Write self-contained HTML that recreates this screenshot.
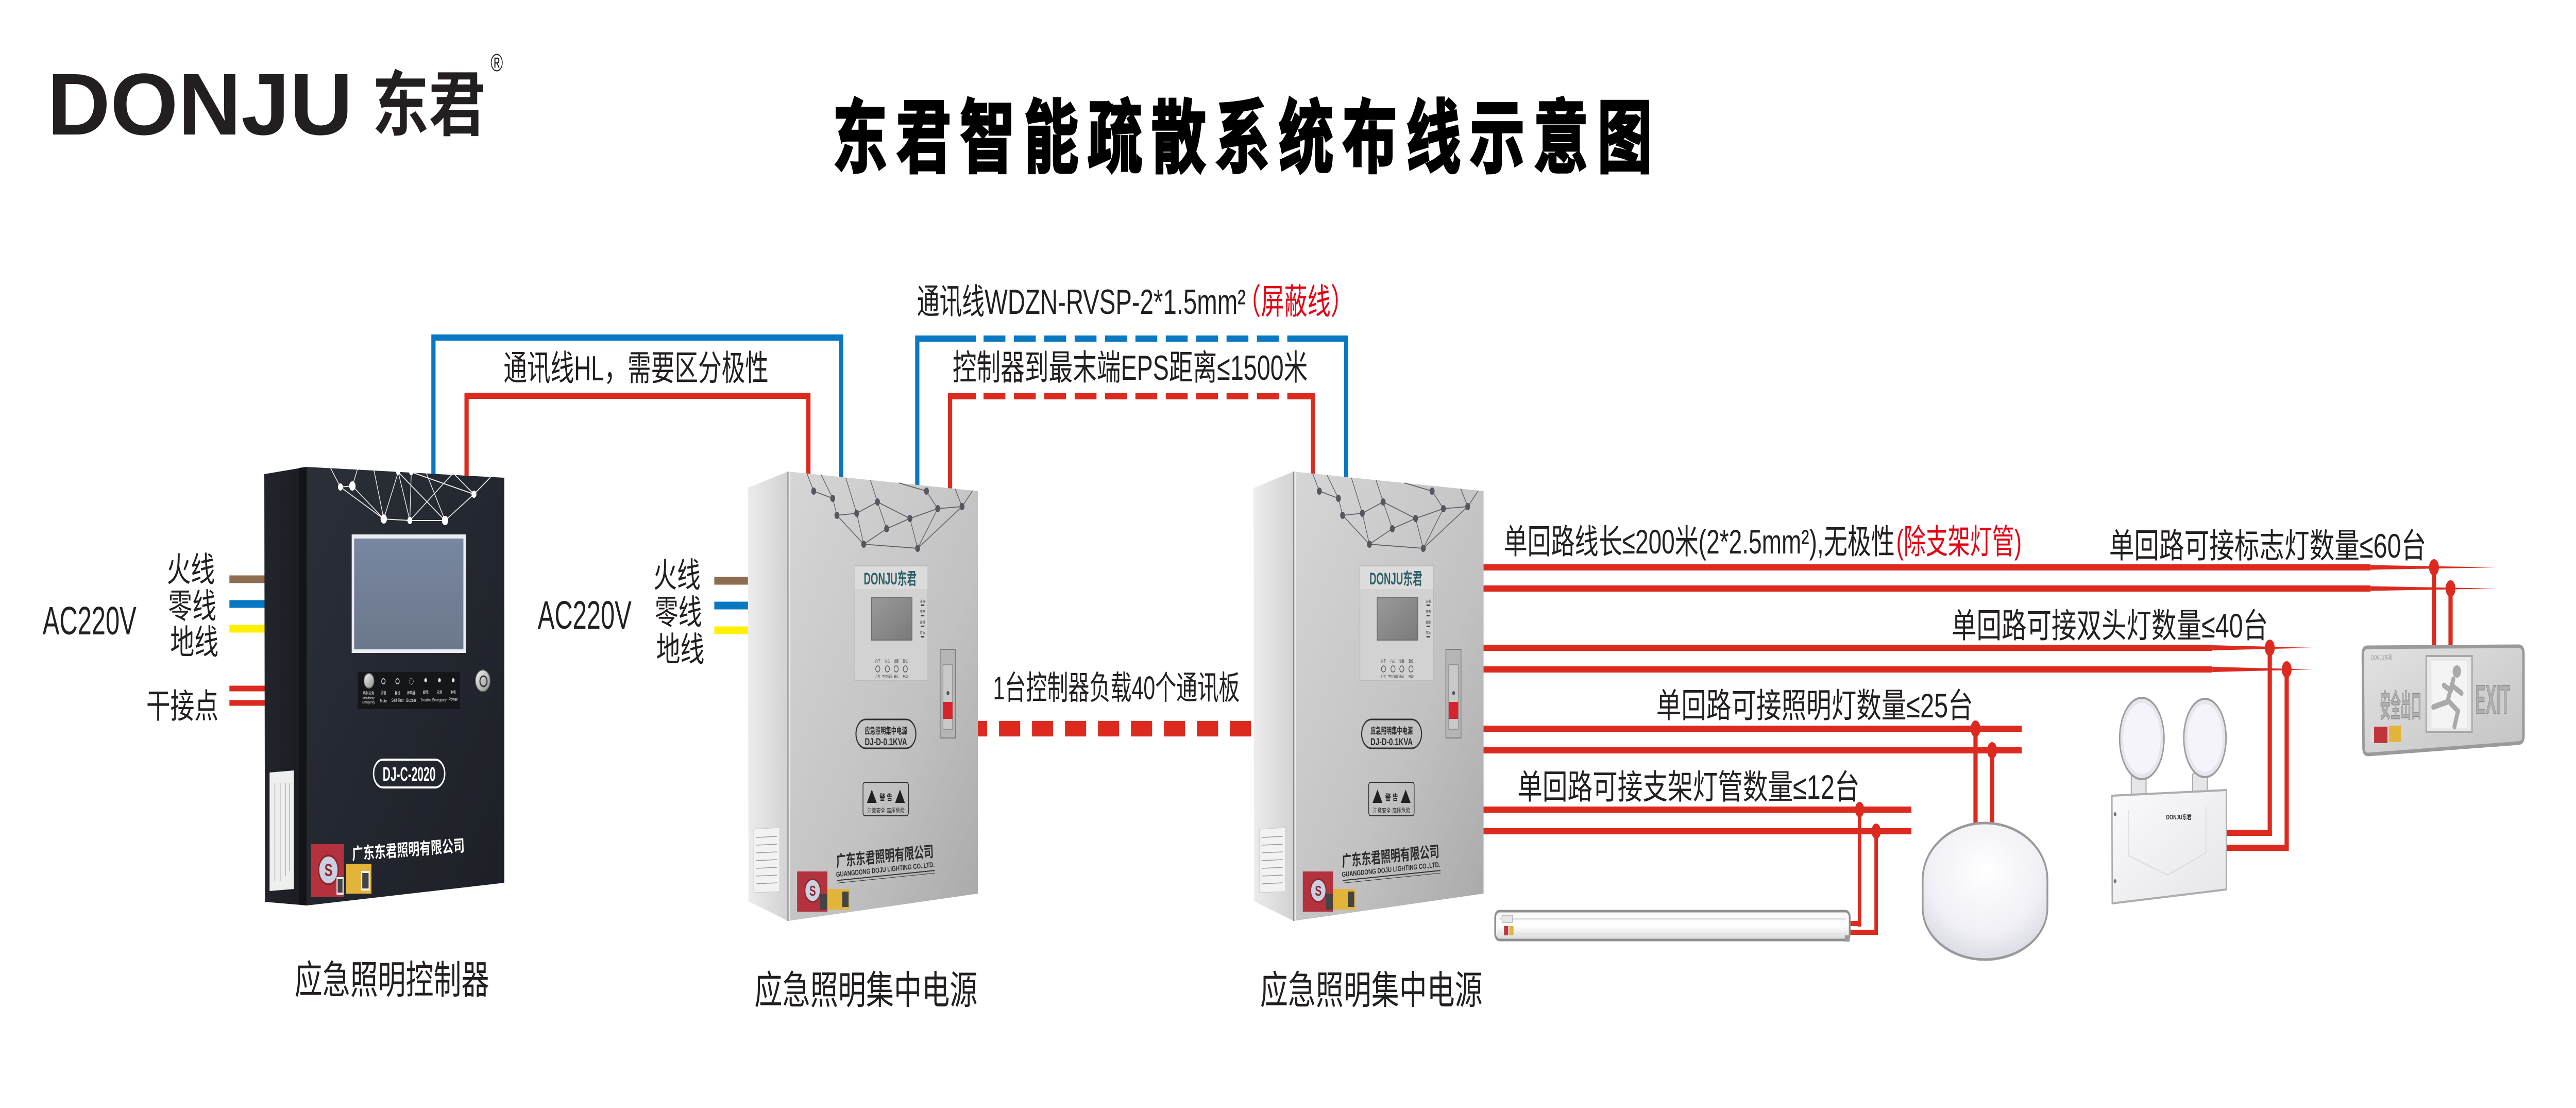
<!DOCTYPE html>
<html><head><meta charset="utf-8"><style>
html,body{margin:0;padding:0;background:#fff;width:100%;height:100%;overflow:hidden;}
svg{display:block;width:100vw;height:100vh;}
text{font-family:"Liberation Sans","Noto Sans CJK SC",sans-serif;}
</style></head><body>
<svg viewBox="0 0 7310 2150" preserveAspectRatio="none" xmlns="http://www.w3.org/2000/svg">
<defs>
<linearGradient id="cf" x1="0" y1="0" x2="1" y2="1"><stop offset="0" stop-color="#2b2f38"/><stop offset="1" stop-color="#1c1f26"/></linearGradient>
<linearGradient id="cs" x1="0" y1="0" x2="1" y2="0"><stop offset="0" stop-color="#22252c"/><stop offset="1" stop-color="#191b20"/></linearGradient>
<linearGradient id="ef" x1="0" y1="0" x2="1" y2="1"><stop offset="0" stop-color="#d6d6d6"/><stop offset="0.6" stop-color="#c2c2c2"/><stop offset="1" stop-color="#a9a9a9"/></linearGradient>
<linearGradient id="es" x1="0" y1="0" x2="1" y2="0"><stop offset="0" stop-color="#ececec"/><stop offset="1" stop-color="#d2d2d2"/></linearGradient>
<linearGradient id="scr" x1="0" y1="0" x2="0" y2="1"><stop offset="0" stop-color="#7886a0"/><stop offset="1" stop-color="#6b788c"/></linearGradient>
<linearGradient id="lcd" x1="0" y1="0" x2="1" y2="1"><stop offset="0" stop-color="#9a9a9a"/><stop offset="1" stop-color="#7a7a7a"/></linearGradient>
<linearGradient id="silver" x1="0" y1="0" x2="1" y2="1"><stop offset="0" stop-color="#f4f4f4"/><stop offset="1" stop-color="#8c8c8c"/></linearGradient>
<linearGradient id="tube" x1="0" y1="0" x2="0" y2="1"><stop offset="0" stop-color="#f7f7f7"/><stop offset="0.5" stop-color="#ffffff"/><stop offset="1" stop-color="#d8d8d8"/></linearGradient>
<radialGradient id="puck" cx="0.5" cy="0.35" r="0.65"><stop offset="0" stop-color="#ffffff"/><stop offset="0.7" stop-color="#f0f0f6"/><stop offset="1" stop-color="#dcdce4"/></radialGradient>
<linearGradient id="exitg" x1="0" y1="0" x2="1" y2="1"><stop offset="0" stop-color="#e2e2e2"/><stop offset="1" stop-color="#c4c4c4"/></linearGradient>
<linearGradient id="dhb" x1="0" y1="0" x2="1" y2="1"><stop offset="0" stop-color="#fafafc"/><stop offset="1" stop-color="#e6e6ea"/></linearGradient>
</defs>
<rect width="7310" height="2150" fill="#fff"/>

<!-- LOGO -->
<text x="134" y="261" font-size="170" font-weight="bold" fill="#231f20" textLength="867" lengthAdjust="spacingAndGlyphs">DONJU</text>
<text x="1056" y="252" font-size="138" font-weight="bold" fill="#231f20" textLength="322" lengthAdjust="spacingAndGlyphs">东君</text>
<text x="1392" y="138" font-size="48" fill="#231f20">®</text>

<!-- TITLE -->
<text x="2363" y="322" font-size="155" font-weight="bold" fill="#000" stroke="#000" stroke-width="5" textLength="2325" lengthAdjust="spacing">东君智能疏散系统布线示意图</text>

<!-- LEFT AC WIRES -->
<rect x="651" y="1116.5" width="104" height="15" fill="#8c6d4f"/>
<rect x="651" y="1164.5" width="104" height="15" fill="#0878c3"/>
<rect x="651" y="1212.5" width="104" height="15" fill="#fff100"/>
<rect x="651" y="1330.5" width="104" height="11" fill="#dd2a1f"/>
<rect x="651" y="1358.5" width="104" height="11" fill="#dd2a1f"/>
<!-- RIGHT AC WIRES to EPS1 -->
<rect x="2027" y="1119.5" width="100" height="15" fill="#8c6d4f"/>
<rect x="2027" y="1167.5" width="100" height="15" fill="#0878c3"/>
<rect x="2027" y="1215.5" width="100" height="15" fill="#fff100"/>

<!-- HL wires -->
<path d="M1230 945 V655 H2387 V945" stroke="#0878c3" stroke-width="12" fill="none"/>
<path d="M1324 945 V768 H2294 V945" stroke="#dd2a1f" stroke-width="12" fill="none"/>

<!-- EPS1-EPS2 comm wires -->
<g stroke-width="12" fill="none">
<path d="M2603 960 V657 H2769" stroke="#0878c3"/>
<path d="M3653 657 H3820 V945" stroke="#0878c3"/>
<path d="M2791 657 H3629" stroke="#0878c3" stroke-dasharray="62 24.2"/>
<path d="M2696 965 V769 H2769" stroke="#dd2a1f"/>
<path d="M3653 769 H3726 V945" stroke="#dd2a1f"/>
<path d="M2791 769 H3629" stroke="#dd2a1f" stroke-dasharray="62 24.2"/>
</g>
<!-- middle dashed -->
<path d="M2770 1414 H3565" stroke="#dd2a1f" stroke-width="30" stroke-dasharray="60 33.6" stroke-dashoffset="28.6" fill="none"/>

<!-- RIGHT WIRE PAIRS -->
<g fill="#dd2a1f">
<rect x="4200" y="1095" width="2527" height="12"/>
<polygon points="6727,1096.5 7083,1101 6727,1105.5"/>
<rect x="4200" y="1136" width="2527" height="12"/>
<polygon points="6727,1137.5 7083,1142 6727,1146.5"/>
<rect x="4200" y="1251" width="2078" height="12"/>
<polygon points="6278,1252 6565,1257 6278,1262"/>
<rect x="4200" y="1293" width="2078" height="12"/>
<polygon points="6278,1294 6565,1299 6278,1304"/>
<rect x="4200" y="1408" width="1537" height="12"/>
<rect x="4200" y="1450" width="1537" height="12"/>
<rect x="4200" y="1565" width="1224" height="12"/>
<rect x="4200" y="1607" width="1224" height="12"/>
<!-- verticals -->
<rect x="6901" y="1101" width="12" height="160"/>
<rect x="6948" y="1142" width="12" height="119"/>
<rect x="6435" y="1257" width="12" height="365"/>
<rect x="6483" y="1299" width="12" height="352"/>
<rect x="6310" y="1610" width="137" height="12"/>
<rect x="6310" y="1639" width="185" height="12"/>
<rect x="5600" y="1414" width="12" height="190"/>
<rect x="5647" y="1456" width="12" height="148"/>
<rect x="5272" y="1571" width="10" height="227"/>
<rect x="5319" y="1613" width="10" height="201"/>
<rect x="5245" y="1787" width="37" height="10"/>
<rect x="5245" y="1804" width="84" height="10"/>
<!-- dots -->
<ellipse cx="6907" cy="1101" rx="14" ry="16"/>
<ellipse cx="6954" cy="1142" rx="14" ry="16"/>
<ellipse cx="6441" cy="1257" rx="14" ry="16"/>
<ellipse cx="6489" cy="1299" rx="14" ry="16"/>
<ellipse cx="5606" cy="1414" rx="14" ry="16"/>
<ellipse cx="5653" cy="1456" rx="14" ry="16"/>
<ellipse cx="5277" cy="1571" rx="13" ry="15"/>
<ellipse cx="5324" cy="1613" rx="13" ry="15"/>
</g>

<!-- CONTROLLER -->
<polygon points="750,920 871,906 871,1757 752,1750" fill="url(#cs)"/>
<polygon points="848,908 871,906 871,1757 848,1755" fill="#121418"/>
<polygon points="871,906 1431,927 1431,1713 871,1757" fill="url(#cf)"/>
<g stroke="#e8e8e8" stroke-width="2" fill="none">
<path d="M937 907 L966 945 L1000 943 L1015 909 M966 945 L1089 1007 L1061 912 M1000 943 L1089 1007 L1163 1010 L1130 916 M1130 916 L1263 1010 L1163 1010 M1167 916 L1163 1010 M1167 916 L1345 959 L1392 926 M1263 1010 L1345 959 M1208 915 L1263 1010 M1286 918 L1163 1010 M1286 918 L1345 959 M1089 1007 L1130 916"/>
</g>
<g fill="#fff">
<circle cx="966" cy="945" r="7"/><circle cx="1000" cy="943" r="9"/><circle cx="1089" cy="1007" r="9"/><circle cx="1163" cy="1010" r="7"/><circle cx="1263" cy="1010" r="9"/><circle cx="1345" cy="959" r="7"/><circle cx="1130" cy="916" r="6"/><circle cx="1167" cy="916" r="6"/>
</g>
<rect x="998" y="1037" width="324" height="230" fill="#e9edf1"/>
<rect x="1005" y="1045" width="310" height="215" fill="url(#scr)"/>
<rect x="1015" y="1304" width="290" height="72" fill="#141619"/>
<circle cx="1047" cy="1321" r="14" fill="url(#silver)" stroke="#777" stroke-width="2"/>
<circle cx="1088" cy="1322" r="5" fill="none" stroke="#ccc" stroke-width="2"/>
<circle cx="1128" cy="1322" r="5" fill="none" stroke="#ccc" stroke-width="2"/>
<circle cx="1167" cy="1322" r="6" fill="none" stroke="#aaa" stroke-width="1.5" stroke-dasharray="2 2"/>
<circle cx="1208" cy="1320" r="4" fill="#ddd"/><circle cx="1247" cy="1320" r="4" fill="#ddd"/><circle cx="1286" cy="1320" r="4" fill="#ddd"/>
<g font-size="8" fill="#eee" text-anchor="middle">
<text x="1046" y="1348">强制应急</text><text x="1088" y="1347">消音</text><text x="1128" y="1347">自检</text><text x="1167" y="1347">蜂鸣器</text><text x="1208" y="1346">故障</text><text x="1247" y="1346">应急</text><text x="1286" y="1346">主电</text>
<text x="1046" y="1357" font-size="7">Mandatory</text><text x="1046" y="1365" font-size="7">Emergency</text>
<text x="1088" y="1363" font-size="9">Mute</text><text x="1128" y="1362" font-size="9">Self Test</text><text x="1167" y="1362" font-size="9">Buzzer</text><text x="1208" y="1361" font-size="9">Trouble</text><text x="1247" y="1361" font-size="8">Emergency</text><text x="1286" y="1360" font-size="9">Power</text>
</g>
<circle cx="1370" cy="1321" r="21" fill="url(#silver)" stroke="#555" stroke-width="2"/>
<circle cx="1372" cy="1322" r="10" fill="none" stroke="#333" stroke-width="3"/>
<rect x="1060" y="1474" width="202" height="54" rx="27" fill="none" stroke="#fff" stroke-width="4"/>
<text x="1161" y="1515" font-size="38" font-weight="bold" fill="#fff" text-anchor="middle" textLength="150" lengthAdjust="spacingAndGlyphs">DJ-C-2020</text>
<text x="998" y="1660" font-size="32" font-weight="bold" fill="#fff" textLength="320" lengthAdjust="spacingAndGlyphs" transform="rotate(-3 1158 1640)">广东东君照明有限公司</text>
<rect x="882" y="1638" width="94" height="103" fill="#b3323d"/>
<circle cx="932" cy="1688" r="28" fill="#c9d0e0" stroke="#8e2530" stroke-width="4"/>
<text x="932" y="1700" font-size="34" font-weight="bold" fill="#8e2530" text-anchor="middle">S</text>
<rect x="955" y="1702" width="20" height="34" fill="#f4f4f4"/><rect x="958" y="1706" width="14" height="26" fill="#444"/>
<rect x="982" y="1676" width="72" height="58" fill="#e2b53a"/>
<rect x="1025" y="1690" width="24" height="38" fill="#f4f4f4"/><rect x="1028" y="1694" width="18" height="30" fill="#444"/>
<polygon points="765,1499 834,1495 834,1725 765,1729" fill="#eeeeee"/>
<g stroke="#aaa" stroke-width="2"><line x1="780" y1="1520" x2="780" y2="1710"/><line x1="795" y1="1520" x2="795" y2="1710"/><line x1="810" y1="1520" x2="810" y2="1700"/><line x1="822" y1="1520" x2="822" y2="1690"/></g>

<!-- EPS1 -->
<g>
<polygon points="2122,947 2236,915 2236,1787 2124,1749" fill="url(#es)"/>
<polygon points="2236,915 2775,953 2775,1734 2236,1787" fill="url(#ef)"/>
<line x1="2236" y1="915" x2="2236" y2="1787" stroke="#8a8a8a" stroke-width="3"/>
<line x1="2241" y1="916" x2="2241" y2="1786" stroke="#ececec" stroke-width="3"/>
<g stroke="#5c5f66" stroke-width="1.8" fill="none">
<path d="M2290 919 L2309 953 L2363 967 L2375 1000 L2431 996 L2490 974 L2516 1026 L2451 1056 L2375 1000 M2330 921 L2363 967 M2400 927 L2431 996 M2470 932 L2490 974 M2516 1026 L2582 1006 L2604 1064 L2451 1056 M2582 1006 L2661 987 L2629 953 L2550 937 M2661 987 L2730 983 L2760 952 M2604 1064 L2661 987 M2710 948 L2730 983 M2490 974 L2582 1006 M2604 1064 L2730 983 M2431 996 L2451 1056"/>
</g>
<g fill="#54575e">
<circle cx="2309" cy="953" r="7"/><circle cx="2363" cy="967" r="7"/><circle cx="2375" cy="1000" r="7"/><circle cx="2431" cy="996" r="7"/><circle cx="2490" cy="974" r="7"/><circle cx="2516" cy="1026" r="7"/><circle cx="2451" cy="1056" r="7"/><circle cx="2582" cy="1006" r="7"/><circle cx="2604" cy="1064" r="7"/><circle cx="2629" cy="953" r="7"/><circle cx="2661" cy="987" r="7"/><circle cx="2730" cy="983" r="7"/>
</g>
<rect x="2424" y="1098" width="209" height="222" fill="#d2d2d2" stroke="#bcbcbc" stroke-width="2"/>
<rect x="2425" y="1099" width="207" height="44" fill="#dcdcdc"/>
<text x="2451" y="1134" font-size="32" font-weight="bold" fill="#2e5f66" textLength="150" lengthAdjust="spacingAndGlyphs">DONJU东君</text>
<rect x="2473" y="1160" width="115" height="82" fill="url(#lcd)" stroke="#6e6e6e" stroke-width="2"/>
<g font-size="7" fill="#333" text-anchor="middle">
<text x="2618" y="1169">主电</text><text x="2618" y="1189">充电</text><text x="2618" y="1210">故障</text><text x="2618" y="1230">应急</text>
<text x="2491" y="1285">向下</text><text x="2518" y="1285">向右</text><text x="2543" y="1285">设置</text><text x="2569" y="1285">复位</text>
<text x="2491" y="1315">月检</text><text x="2518" y="1315">年检/消音</text><text x="2543" y="1315">确认</text><text x="2569" y="1315">自动</text>
</g>
<g fill="#444"><rect x="2613" y="1173" width="10" height="3"/><rect x="2613" y="1193" width="10" height="3"/><rect x="2613" y="1214" width="10" height="3"/><rect x="2613" y="1234" width="10" height="3"/></g>
<g fill="none" stroke="#444" stroke-width="1.5"><circle cx="2491" cy="1298" r="6"/><circle cx="2518" cy="1298" r="6"/><circle cx="2543" cy="1298" r="6"/><circle cx="2569" cy="1298" r="6"/></g>
<rect x="2668" y="1260" width="43" height="172" fill="#b5b5b5" stroke="#7d7d7d" stroke-width="2"/>
<rect x="2676" y="1290" width="27" height="125" fill="#c9c9c9" stroke="#888" stroke-width="1.5"/>
<circle cx="2690" cy="1345" r="4" fill="#555"/>
<rect x="2676" y="1362" width="27" height="33" fill="#d8222c"/>
<rect x="2429" y="1396" width="170" height="56" rx="28" fill="none" stroke="#2f2f2f" stroke-width="3"/>
<text x="2514" y="1424" font-size="17" font-weight="bold" fill="#2a2a2a" text-anchor="middle" textLength="120" lengthAdjust="spacingAndGlyphs">应急照明集中电源</text>
<text x="2514" y="1446" font-size="19" font-weight="bold" fill="#2a2a2a" text-anchor="middle" textLength="120" lengthAdjust="spacingAndGlyphs">DJ-D-0.1KVA</text>
<rect x="2449" y="1518" width="129" height="65" rx="6" fill="none" stroke="#333" stroke-width="2"/>
<polygon points="2460,1558 2474,1532 2488,1558" fill="#222"/>
<polygon points="2540,1558 2554,1532 2568,1558" fill="#222"/>
<text x="2514" y="1553" font-size="16" font-weight="bold" fill="#222" text-anchor="middle">警 告</text>
<text x="2514" y="1577" font-size="12" fill="#222" text-anchor="middle" textLength="106" lengthAdjust="spacingAndGlyphs">注意安全·高压危险</text>
<g transform="rotate(-4 2511 1670)">
<text x="2373" y="1672" font-size="30" font-weight="bold" fill="#2b2b2b" textLength="277" lengthAdjust="spacingAndGlyphs">广东东君照明有限公司</text>
<text x="2371" y="1692" font-size="14" font-weight="bold" fill="#2b2b2b" textLength="280" lengthAdjust="spacingAndGlyphs">GUANGDONG DOJU LIGHTING CO.,LTD.</text>
<line x1="2373" y1="1699" x2="2651" y2="1699" stroke="#333" stroke-width="2"/>
<line x1="2373" y1="1704" x2="2651" y2="1704" stroke="#333" stroke-width="1"/>
</g>
<rect x="2262" y="1691" width="86" height="78" fill="#b3323d"/>
<circle cx="2306" cy="1728" r="22" fill="#c9d0e0" stroke="#8e2530" stroke-width="3"/>
<text x="2306" y="1738" font-size="28" font-weight="bold" fill="#8e2530" text-anchor="middle">S</text>
<rect x="2327" y="1735" width="20" height="30" fill="#444"/>
<rect x="2349" y="1725" width="62" height="40" fill="#e2b53a"/>
<rect x="2390" y="1730" width="18" height="30" fill="#444"/>
<polygon points="2139,1609 2212,1606 2212,1730 2139,1732" fill="#f2f2f2" stroke="#c8c8c8" stroke-width="1"/>
<g stroke="#999" stroke-width="1.5"><line x1="2146" y1="1625" x2="2205" y2="1623"/><line x1="2146" y1="1640" x2="2205" y2="1638"/><line x1="2146" y1="1655" x2="2205" y2="1653"/><line x1="2146" y1="1670" x2="2205" y2="1668"/><line x1="2146" y1="1685" x2="2205" y2="1683"/><line x1="2146" y1="1700" x2="2205" y2="1698"/><line x1="2146" y1="1715" x2="2205" y2="1713"/></g>
</g>

<!-- EPS2 -->
<g transform="translate(1435 0)">
<polygon points="2122,947 2236,915 2236,1787 2124,1749" fill="url(#es)"/>
<polygon points="2236,915 2775,953 2775,1734 2236,1787" fill="url(#ef)"/>
<line x1="2236" y1="915" x2="2236" y2="1787" stroke="#8a8a8a" stroke-width="3"/>
<line x1="2241" y1="916" x2="2241" y2="1786" stroke="#ececec" stroke-width="3"/>
<g stroke="#5c5f66" stroke-width="1.8" fill="none">
<path d="M2290 919 L2309 953 L2363 967 L2375 1000 L2431 996 L2490 974 L2516 1026 L2451 1056 L2375 1000 M2330 921 L2363 967 M2400 927 L2431 996 M2470 932 L2490 974 M2516 1026 L2582 1006 L2604 1064 L2451 1056 M2582 1006 L2661 987 L2629 953 L2550 937 M2661 987 L2730 983 L2760 952 M2604 1064 L2661 987 M2710 948 L2730 983 M2490 974 L2582 1006 M2604 1064 L2730 983 M2431 996 L2451 1056"/>
</g>
<g fill="#54575e">
<circle cx="2309" cy="953" r="7"/><circle cx="2363" cy="967" r="7"/><circle cx="2375" cy="1000" r="7"/><circle cx="2431" cy="996" r="7"/><circle cx="2490" cy="974" r="7"/><circle cx="2516" cy="1026" r="7"/><circle cx="2451" cy="1056" r="7"/><circle cx="2582" cy="1006" r="7"/><circle cx="2604" cy="1064" r="7"/><circle cx="2629" cy="953" r="7"/><circle cx="2661" cy="987" r="7"/><circle cx="2730" cy="983" r="7"/>
</g>
<rect x="2424" y="1098" width="209" height="222" fill="#d2d2d2" stroke="#bcbcbc" stroke-width="2"/>
<rect x="2425" y="1099" width="207" height="44" fill="#dcdcdc"/>
<text x="2451" y="1134" font-size="32" font-weight="bold" fill="#2e5f66" textLength="150" lengthAdjust="spacingAndGlyphs">DONJU东君</text>
<rect x="2473" y="1160" width="115" height="82" fill="url(#lcd)" stroke="#6e6e6e" stroke-width="2"/>
<g font-size="7" fill="#333" text-anchor="middle">
<text x="2618" y="1169">主电</text><text x="2618" y="1189">充电</text><text x="2618" y="1210">故障</text><text x="2618" y="1230">应急</text>
<text x="2491" y="1285">向下</text><text x="2518" y="1285">向右</text><text x="2543" y="1285">设置</text><text x="2569" y="1285">复位</text>
<text x="2491" y="1315">月检</text><text x="2518" y="1315">年检/消音</text><text x="2543" y="1315">确认</text><text x="2569" y="1315">自动</text>
</g>
<g fill="#444"><rect x="2613" y="1173" width="10" height="3"/><rect x="2613" y="1193" width="10" height="3"/><rect x="2613" y="1214" width="10" height="3"/><rect x="2613" y="1234" width="10" height="3"/></g>
<g fill="none" stroke="#444" stroke-width="1.5"><circle cx="2491" cy="1298" r="6"/><circle cx="2518" cy="1298" r="6"/><circle cx="2543" cy="1298" r="6"/><circle cx="2569" cy="1298" r="6"/></g>
<rect x="2668" y="1260" width="43" height="172" fill="#b5b5b5" stroke="#7d7d7d" stroke-width="2"/>
<rect x="2676" y="1290" width="27" height="125" fill="#c9c9c9" stroke="#888" stroke-width="1.5"/>
<circle cx="2690" cy="1345" r="4" fill="#555"/>
<rect x="2676" y="1362" width="27" height="33" fill="#d8222c"/>
<rect x="2429" y="1396" width="170" height="56" rx="28" fill="none" stroke="#2f2f2f" stroke-width="3"/>
<text x="2514" y="1424" font-size="17" font-weight="bold" fill="#2a2a2a" text-anchor="middle" textLength="120" lengthAdjust="spacingAndGlyphs">应急照明集中电源</text>
<text x="2514" y="1446" font-size="19" font-weight="bold" fill="#2a2a2a" text-anchor="middle" textLength="120" lengthAdjust="spacingAndGlyphs">DJ-D-0.1KVA</text>
<rect x="2449" y="1518" width="129" height="65" rx="6" fill="none" stroke="#333" stroke-width="2"/>
<polygon points="2460,1558 2474,1532 2488,1558" fill="#222"/>
<polygon points="2540,1558 2554,1532 2568,1558" fill="#222"/>
<text x="2514" y="1553" font-size="16" font-weight="bold" fill="#222" text-anchor="middle">警 告</text>
<text x="2514" y="1577" font-size="12" fill="#222" text-anchor="middle" textLength="106" lengthAdjust="spacingAndGlyphs">注意安全·高压危险</text>
<g transform="rotate(-4 2511 1670)">
<text x="2373" y="1672" font-size="30" font-weight="bold" fill="#2b2b2b" textLength="277" lengthAdjust="spacingAndGlyphs">广东东君照明有限公司</text>
<text x="2371" y="1692" font-size="14" font-weight="bold" fill="#2b2b2b" textLength="280" lengthAdjust="spacingAndGlyphs">GUANGDONG DOJU LIGHTING CO.,LTD.</text>
<line x1="2373" y1="1699" x2="2651" y2="1699" stroke="#333" stroke-width="2"/>
<line x1="2373" y1="1704" x2="2651" y2="1704" stroke="#333" stroke-width="1"/>
</g>
<rect x="2262" y="1691" width="86" height="78" fill="#b3323d"/>
<circle cx="2306" cy="1728" r="22" fill="#c9d0e0" stroke="#8e2530" stroke-width="3"/>
<text x="2306" y="1738" font-size="28" font-weight="bold" fill="#8e2530" text-anchor="middle">S</text>
<rect x="2327" y="1735" width="20" height="30" fill="#444"/>
<rect x="2349" y="1725" width="62" height="40" fill="#e2b53a"/>
<rect x="2390" y="1730" width="18" height="30" fill="#444"/>
<polygon points="2139,1609 2212,1606 2212,1730 2139,1732" fill="#f2f2f2" stroke="#c8c8c8" stroke-width="1"/>
<g stroke="#999" stroke-width="1.5"><line x1="2146" y1="1625" x2="2205" y2="1623"/><line x1="2146" y1="1640" x2="2205" y2="1638"/><line x1="2146" y1="1655" x2="2205" y2="1653"/><line x1="2146" y1="1670" x2="2205" y2="1668"/><line x1="2146" y1="1685" x2="2205" y2="1683"/><line x1="2146" y1="1700" x2="2205" y2="1698"/><line x1="2146" y1="1715" x2="2205" y2="1713"/></g>
</g>

<!-- TUBE LIGHT -->
<rect x="4243" y="1768" width="1006" height="56" rx="12" fill="url(#tube)" stroke="#8f8f8f" stroke-width="5"/>
<line x1="4255" y1="1783" x2="5238" y2="1783" stroke="#dcdcdc" stroke-width="3"/>
<line x1="4255" y1="1812" x2="5238" y2="1812" stroke="#e2e2e2" stroke-width="2"/>
<rect x="4262" y="1776" width="30" height="14" fill="#e8e8e8" stroke="#999" stroke-width="1"/>
<rect x="4268" y="1797" width="12" height="18" fill="#c8323c"/>
<rect x="4283" y="1797" width="12" height="18" fill="#e2b53a"/>
<rect x="5235" y="1815" width="14" height="12" fill="#999"/>

<!-- ROUND LIGHT -->
<path d="M5456 1707 A177 110 0 0 1 5810 1707 L5810 1762 A177 100 0 0 1 5456 1762 Z" fill="url(#puck)" stroke="#9a9a9a" stroke-width="5"/>
<path d="M5462 1752 A172 98 0 0 0 5804 1752" fill="none" stroke="#e4e4ea" stroke-width="3"/>

<!-- DOUBLE HEAD LIGHT -->
<rect x="6048" y="1500" width="42" height="48" rx="6" fill="#e6e6ea" stroke="#aaa" stroke-width="3"/>
<rect x="6222" y="1500" width="42" height="44" rx="6" fill="#e6e6ea" stroke="#aaa" stroke-width="3"/>
<ellipse cx="6078" cy="1433" rx="63" ry="79" fill="#e6e6ec" stroke="#9c9c9c" stroke-width="4"/>
<ellipse cx="6078" cy="1433" rx="53" ry="69" fill="#f4f4fa"/>
<ellipse cx="6257" cy="1432" rx="60" ry="76" fill="#e6e6ec" stroke="#9c9c9c" stroke-width="4"/>
<ellipse cx="6257" cy="1432" rx="50" ry="66" fill="#f4f4fa"/>
<path d="M5993 1544 L6318 1533 L6318 1726 L5994 1753 Z" fill="url(#dhb)" stroke="#adadad" stroke-width="4"/>
<path d="M6040 1572 L6040 1660 L6150 1698 L6260 1655 L6260 1565" fill="none" stroke="#e0e0e4" stroke-width="3"/>
<text x="6147" y="1590" font-size="13" font-weight="bold" fill="#333" textLength="72" lengthAdjust="spacingAndGlyphs">DONJU东君</text>
<circle cx="6002" cy="1580" r="4" fill="#777"/><circle cx="6002" cy="1710" r="4" fill="#777"/>

<!-- EXIT SIGN -->
<path d="M6718 1256 L7147 1254 Q7161 1254 7161 1268 L7161 1428 Q7161 1441 7147 1442 L6720 1464 Q6707 1464 6707 1451 L6705 1270 Q6705 1256 6718 1256 Z" fill="url(#exitg)" stroke="#9a9a9a" stroke-width="7"/>
<text x="6728" y="1280" font-size="12" fill="#999" textLength="60" lengthAdjust="spacingAndGlyphs">DONJU东君</text>
<text x="6754" y="1391" font-size="60" font-weight="bold" fill="#b0b0b0" stroke="#8a8a8a" stroke-width="1.5" textLength="117" lengthAdjust="spacingAndGlyphs">安全出口</text>
<rect x="6885" y="1273" width="130" height="147" fill="#e8e8e8" stroke="#a8a8a8" stroke-width="4"/>
<rect x="6900" y="1282" width="100" height="130" fill="#f4f4f4"/>
<circle cx="6972" cy="1303" r="12" fill="#aaaaaa"/>
<path d="M6962 1318 L6945 1362 L6905 1372 M6955 1340 L6935 1330 M6958 1330 L6985 1345 M6948 1360 L6975 1380 L6965 1410" fill="none" stroke="#aaaaaa" stroke-width="11" stroke-linecap="round"/>
<text x="7024" y="1385" font-size="80" font-weight="bold" fill="#b0b0b0" stroke="#8a8a8a" stroke-width="1.5" textLength="99" lengthAdjust="spacingAndGlyphs">EXIT</text>
<rect x="6727" y="1412" width="8" height="28" fill="#ddd"/>
<rect x="6737" y="1410" width="38" height="32" fill="#c0343c"/>
<rect x="6779" y="1408" width="34" height="32" fill="#e2b53a"/>

<!-- LABELS -->
<g fill="#231f20">
<text x="1429" y="738" font-size="68" textLength="752" lengthAdjust="spacingAndGlyphs">通讯线HL，需要区分极性</text>
<text x="2602" y="609" font-size="68" textLength="192" lengthAdjust="spacingAndGlyphs">通讯线</text>
<text x="2794" y="609" font-size="68" textLength="741" lengthAdjust="spacingAndGlyphs">WDZN-RVSP-2*1.5mm²</text>
<text x="3512" y="609" font-size="68" fill="#e60012" textLength="330" lengthAdjust="spacingAndGlyphs">（屏蔽线）</text>
<text x="2703" y="737" font-size="68" textLength="1008" lengthAdjust="spacingAndGlyphs">控制器到最末端EPS距离≤1500米</text>
<text x="2818" y="1357" font-size="64" textLength="700" lengthAdjust="spacingAndGlyphs">1台控制器负载40个通讯板</text>
<text x="121" y="1231" font-size="77" textLength="266" lengthAdjust="spacingAndGlyphs">AC220V</text>
<text x="1526" y="1220" font-size="77" textLength="266" lengthAdjust="spacingAndGlyphs">AC220V</text>
<text x="473" y="1128" font-size="66" textLength="137" lengthAdjust="spacingAndGlyphs">火线</text>
<text x="477" y="1199" font-size="66" textLength="137" lengthAdjust="spacingAndGlyphs">零线</text>
<text x="483" y="1269" font-size="66" textLength="137" lengthAdjust="spacingAndGlyphs">地线</text>
<text x="1854" y="1139" font-size="66" textLength="134" lengthAdjust="spacingAndGlyphs">火线</text>
<text x="1858" y="1211" font-size="66" textLength="134" lengthAdjust="spacingAndGlyphs">零线</text>
<text x="1862" y="1283" font-size="66" textLength="137" lengthAdjust="spacingAndGlyphs">地线</text>
<text x="415" y="1393" font-size="66" textLength="205" lengthAdjust="spacingAndGlyphs">干接点</text>
<text x="836" y="1928" font-size="76" textLength="552" lengthAdjust="spacingAndGlyphs">应急照明控制器</text>
<text x="2141" y="1948" font-size="76" textLength="633" lengthAdjust="spacingAndGlyphs">应急照明集中电源</text>
<text x="3576" y="1948" font-size="76" textLength="631" lengthAdjust="spacingAndGlyphs">应急照明集中电源</text>
<text x="4267" y="1074" font-size="66" textLength="1110" lengthAdjust="spacingAndGlyphs">单回路线长≤200米(2*2.5mm²),无极性</text>
<text x="5381" y="1074" font-size="66" fill="#e60012" textLength="356" lengthAdjust="spacingAndGlyphs">(除支架灯管)</text>
<text x="5985" y="1082" font-size="66" textLength="900" lengthAdjust="spacingAndGlyphs">单回路可接标志灯数量≤60台</text>
<text x="5538" y="1237" font-size="66" textLength="898" lengthAdjust="spacingAndGlyphs">单回路可接双头灯数量≤40台</text>
<text x="4700" y="1392" font-size="66" textLength="899" lengthAdjust="spacingAndGlyphs">单回路可接照明灯数量≤25台</text>
<text x="4306" y="1550" font-size="66" textLength="971" lengthAdjust="spacingAndGlyphs">单回路可接支架灯管数量≤12台</text>
</g>
</svg>
</body></html>
